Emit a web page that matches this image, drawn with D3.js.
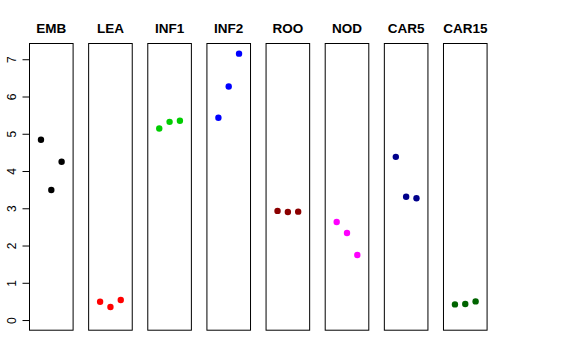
<!DOCTYPE html>
<html><head><meta charset="utf-8">
<script src="https://cdn.jsdelivr.net/npm/d3@7"></script>
<style>body{margin:0;background:#fff}svg{display:block}</style>
</head><body>
<script>
const categories = ["EMB","LEA","INF1","INF2","ROO","NOD","CAR5","CAR15"];
const colors = ["#000000","#FF0000","#00CD00","#0000FF","#8B0000","#FF00FF","#00008B","#006400"];
const valuesEMB = [4.84, 3.49, 4.25];
const valuesLEA = [0.49, 0.35, 0.54];
const valuesINF1 = [5.14, 5.32, 5.35];
const valuesINF2 = [5.43, 6.27, 7.15];
const valuesROO = [2.93, 2.90, 2.91];
const valuesNOD = [2.63, 2.335, 1.745];
const valuesCAR5 = [4.38, 3.31, 3.27];
const valuesCAR15 = [0.42, 0.43, 0.50];
const yTicks = [0,1,2,3,4,5,6,7];
const series = [valuesEMB, valuesLEA, valuesINF1, valuesINF2, valuesROO, valuesNOD, valuesCAR5, valuesCAR15];

(function () {
const W = 576, H = 360;
const svg = d3.select("body").append("svg").attr("width", W).attr("height", H);

const plotTop = 43, plotBottom = 330.7;
const panelW = 44.6, step = 59.14, left0 = 29;
const yMax = d3.max(series.flat());
const pad = 0.04 * yMax;
const y = d3.scaleLinear().domain([0 - pad, yMax + pad]).range([plotBottom, plotTop]);

categories.forEach((cat, i) => {
  const x0 = left0 + i * step;
  const x = d3.scaleLinear().domain([-0.16, 4.16]).range([x0, x0 + panelW]);
  const g = svg.append("g");
  g.append("rect").attr("x", x0 + 0.5).attr("y", plotTop + 0.5)
    .attr("width", panelW - 1).attr("height", plotBottom - plotTop - 1)
    .attr("fill", "none").attr("stroke", "#000").attr("stroke-width", 1);
  g.append("text").attr("x", x0 + panelW / 2).attr("y", 33)
    .attr("text-anchor", "middle").attr("font-family", "Liberation Sans, Arial, sans-serif")
    .attr("font-weight", "bold").attr("font-size", 13.5).text(cat);
  g.selectAll("circle").data(series[i]).join("circle")
    .attr("cx", (d, j) => x(j + 1)).attr("cy", d => y(d)).attr("r", 3.2)
    .attr("fill", colors[i]);
});

const axis = d3.axisLeft(y).tickValues(yTicks).tickSize(7).tickPadding(3).tickFormat(d3.format("d"));
const ag = svg.append("g").attr("transform", `translate(${left0 + 0.5},0)`).call(axis);
ag.select(".domain").attr("d", `M0,${y(0)}V${y(7)}`).attr("stroke", "#000");
ag.selectAll(".tick line").attr("stroke", "#000");
ag.selectAll(".tick text")
  .attr("font-family", "Liberation Sans, Arial, sans-serif").attr("font-size", 12)
  .attr("fill", "#000")
  .attr("text-anchor", "middle").attr("dy", null).attr("x", null)
  .attr("transform", "translate(-17,0) rotate(-90)")
  .attr("dominant-baseline", "middle");
})();
</script>
</body></html>
